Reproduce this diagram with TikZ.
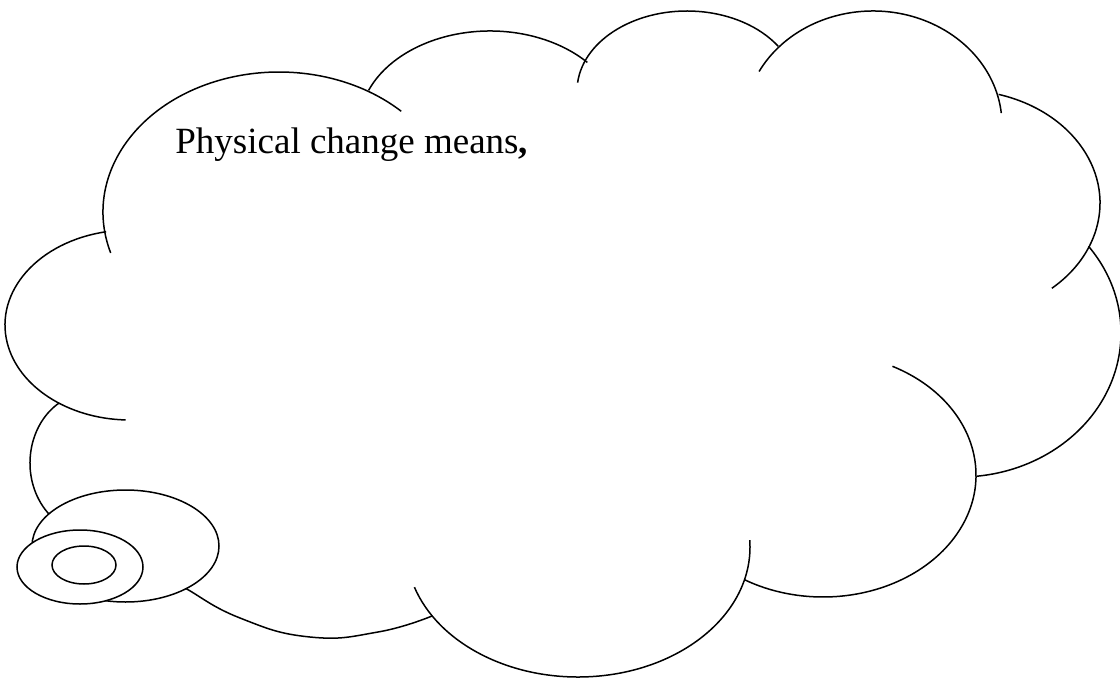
\documentclass[tikz,border=0pt]{standalone}
\usepackage{fontspec}
\setmainfont{Liberation Serif}

\begin{document}
\begin{tikzpicture}[x=0.5pt, y=0.5pt,
  cloudline/.style={line width=0.75pt, black},
  bubble/.style={cloudline, fill=white}]
\useasboundingbox (0,0) rectangle (1120,677);
% lobes of the cloud: centre x/y, radii, start/end angle
\foreach \cx/\cy/\rx/\ry/\ta/\tb in {279/465/176/140/197/46, 130/352/125/95/101/268,
  490/551/131/95/158/42, 687/586/110/80/174/34, 873/552/129/114/152/6,
  960/474/140/113/74/-49, 960/344/161/144/37/-84, 823/202/153/122/63/-121,
  578/130/172/130/3/-162, 90/214/60/70/121/240}
  \draw[cloudline] ({\cx+\rx*cos(\ta)},{\cy+\ry*sin(\ta)}) arc[start angle=\ta, end angle=\tb, x radius=\rx, y radius=\ry];
\draw[cloudline] plot[smooth, tension=0.8] coordinates {(165,100) (185,89) (240,59) (310,40) (378,45) (432,61)};
% thought bubbles
\draw[bubble] (125.5,131) ellipse[x radius=93.5, y radius=56];
\draw[bubble] (80,110) ellipse[x radius=63, y radius=37];
\draw[cloudline] (84,112) ellipse[x radius=32, y radius=19];
\node[anchor=base west, inner sep=0pt, font=\fontsize{18.5}{22}\selectfont] (title) at (175,524) {Physical change means\textbf{,}};
\end{tikzpicture}
\end{document}
